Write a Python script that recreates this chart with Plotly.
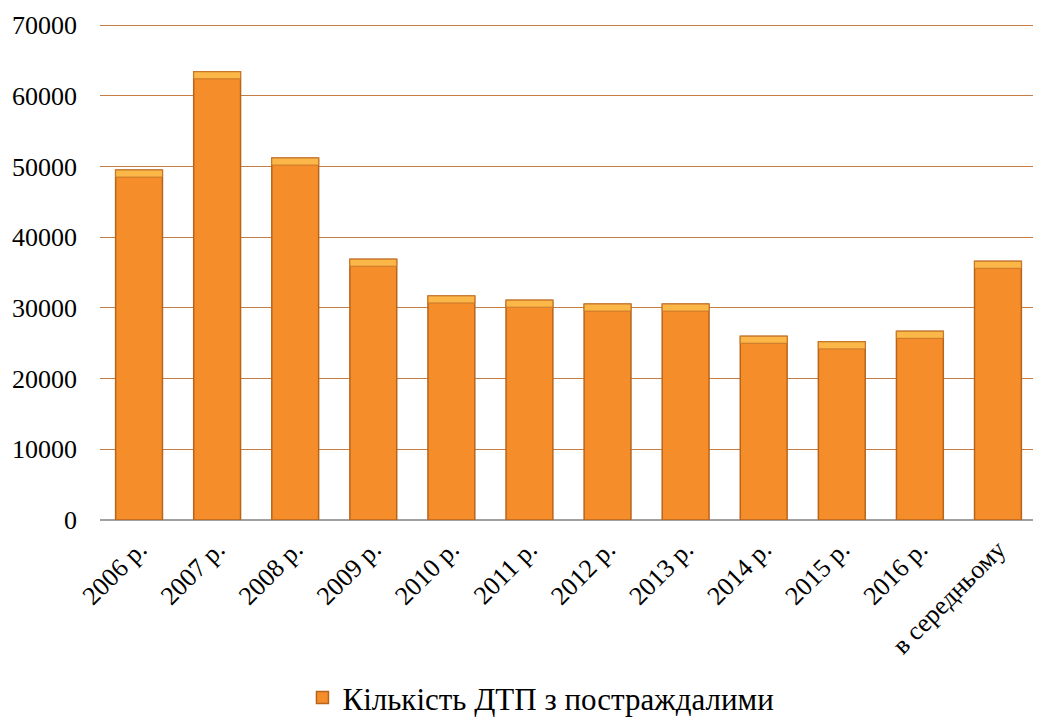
import plotly.graph_objects as go

categories = ["2006 р.", "2007 р.", "2008 р.", "2009 р.", "2010 р.", "2011 р.",
              "2012 р.", "2013 р.", "2014 р.", "2015 р.", "2016 р.", "в середньому"]
values = [49500, 63400, 51200, 36900, 31700, 31100, 30550, 30550, 26000, 25200, 26700, 36600]
series_name = "Кількість ДТП з постраждалими"
y_ticks = [0, 10000, 20000, 30000, 40000, 50000, 60000, 70000]
y_tick_labels = ["0", "10000", "20000", "30000", "40000", "50000", "60000", "70000"]

SERIF = "Liberation Serif, Times New Roman, serif"
cap = 1000  # visual bevel height in data units (style only)

fig = go.Figure()
fig.add_trace(go.Bar(
    x=categories, y=values, name=series_name,
    marker=dict(color="#f58d2b", line=dict(color="#b8651c", width=1.5)),
    showlegend=True,
))
fig.add_trace(go.Bar(
    x=categories, y=[cap] * len(values), base=[v - cap for v in values],
    marker=dict(color="#fbb848", line=dict(color="#c8772a", width=1)),
    showlegend=False, hoverinfo="skip",
))

fig.update_layout(
    width=1033, height=716,
    margin=dict(l=92, r=4, t=15, b=204, autoexpand=False),
    paper_bgcolor="white", plot_bgcolor="white",
    font=dict(family=SERIF, color="black", size=26),
    barmode="overlay",
    bargap=0.4,
    legend=dict(orientation="h", x=0.4706, xanchor="center", y=-0.358, yanchor="middle",
                font=dict(size=31, family=SERIF)),
    xaxis=dict(tickangle=-45, showgrid=False, showline=False, ticks="", automargin=False,
               ticklabelstandoff=8, tickfont=dict(size=26, family=SERIF)),
    yaxis=dict(range=[0, 70300], tickvals=y_ticks, ticktext=y_tick_labels, showgrid=True,
               gridcolor="#c47d45", gridwidth=1, zeroline=True, zerolinecolor="#a0a0a0",
               zerolinewidth=2, ticks="", ticklabelstandoff=22, automargin=False,
               tickfont=dict(size=26, family=SERIF)),
)

fig.write_html("out.html")
